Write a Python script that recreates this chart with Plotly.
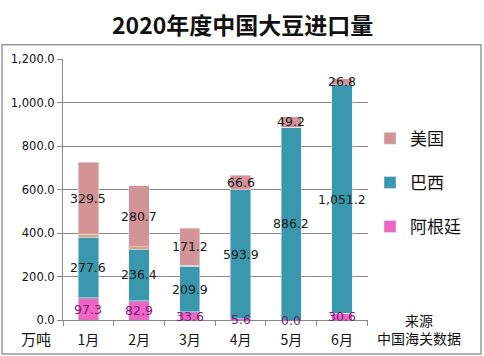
import plotly.graph_objects as go

months = ["1月", "2月", "3月", "4月", "5月", "6月"]
argentina = [97.3, 82.9, 33.6, 5.6, 0.0, 30.6]
other_low = [5, 6, 4, 0, 0, 0]
brazil = [277.6, 236.4, 209.9, 593.9, 886.2, 1051.2]
other_mid = [15, 12, 4, 0, 0, 0]
usa = [329.5, 280.7, 171.2, 66.6, 49.2, 26.8]
y_ticks = [0, 200, 400, 600, 800, 1000, 1200]

C_ARG = "#EE66C4"
C_BRA = "#3A98AE"
C_USA = "#D29496"
C_OL = "#4A5C96"
C_OM = "#E2A276"

PW0, PW1 = 63, 368
PY0, PY1 = 320, 59.3
W, H = 484, 356


def px_x(p):
    return (p - PW0) / (PW1 - PW0)


def px_y(p):
    return (PY0 - p) / (PY0 - PY1)


fig = go.Figure()
fig.add_bar(x=months, y=argentina, name="阿根廷", marker_color=C_ARG,
            legendgroup="a", legendrank=3)
fig.add_bar(x=months, y=other_low, name="其他1", marker_color=C_OL,
            showlegend=False)
fig.add_bar(x=months, y=brazil, name="巴西", marker_color=C_BRA,
            legendgroup="b", legendrank=2)
fig.add_bar(x=months, y=other_mid, name="其他2", marker_color=C_OM,
            showlegend=False)
fig.add_bar(x=months, y=usa, name="美国", marker_color=C_USA,
            legendgroup="c", legendrank=1)

num_font = "DejaVu Sans, Verdana, sans-serif"
cjk = "Noto Sans CJK SC"
ann = []
for i, m in enumerate(months):
    b0 = 0
    segs = [(argentina[i], "#7A1A78", True), (other_low[i], None, False),
            (brazil[i], "#1a1a1a", True), (other_mid[i], None, False),
            (usa[i], "#1a1a1a", True)]
    for v, col, show in segs:
        if show:
            ann.append(dict(x=m, y=b0 + v / 2, xref="x", yref="y",
                            xanchor="center", yanchor="middle",
                            text=f"{v:,.1f}", showarrow=False,
                            font=dict(size=12.5, color=col, family=num_font)))
        b0 += v


def paper_text(px, py, text, size, bold=False):
    return dict(x=px_x(px), y=px_y(py), xref="paper", yref="paper",
                xanchor="center", yanchor="middle", align="center",
                text=f"<b>{text}</b>" if bold else text, showarrow=False,
                font=dict(size=size, color="#111", family=cjk))


ann.append(paper_text(36, 338, "万吨", 15))
ann.append(paper_text(419, 329, "来源<br>中国海关数据", 14))
ann.append(paper_text(242, 24, "2020年度中国大豆进口量", 23, bold=True))

fig.update_layout(
    width=W, height=H,
    margin=dict(l=PW0, r=W - PW1, t=PY1, b=H - PY0, autoexpand=False),
    barmode="stack", bargap=0.6,
    paper_bgcolor="white", plot_bgcolor="white",
    showlegend=True,
    legend=dict(x=px_x(370), y=px_y(121), xanchor="left", yanchor="top",
                traceorder="grouped", tracegroupgap=19,
                font=dict(size=17, color="#111", family=cjk),
                bgcolor="rgba(0,0,0,0)", itemwidth=30),
    annotations=ann,
    shapes=[dict(type="rect", xref="paper", yref="paper",
                 x0=px_x(2), x1=px_x(481), y0=px_y(354), y1=px_y(45),
                 line=dict(color="#999", width=1.5))],
    xaxis=dict(showgrid=False, showline=True, linecolor="#888", linewidth=1,
               ticks="outside", tickson="boundaries", ticklen=5,
               tickcolor="#888", ticklabelstandoff=7,
               tickfont=dict(size=14, color="#111", family=cjk)),
    yaxis=dict(range=[0, 1200], tickvals=y_ticks, tickformat=",.1f",
               showgrid=True, gridcolor="#8a8a8a", gridwidth=1,
               showline=True, linecolor="#888", linewidth=1,
               ticks="outside", ticklen=5, tickcolor="#888",
               zeroline=False,
               tickfont=dict(size=11.5, color="#111", family=num_font)),
)

fig.write_html("out.html",
               config={"displayModeBar": False},
               post_script="document.body.style.margin='0';"
                           "document.body.style.overflow='hidden';")
